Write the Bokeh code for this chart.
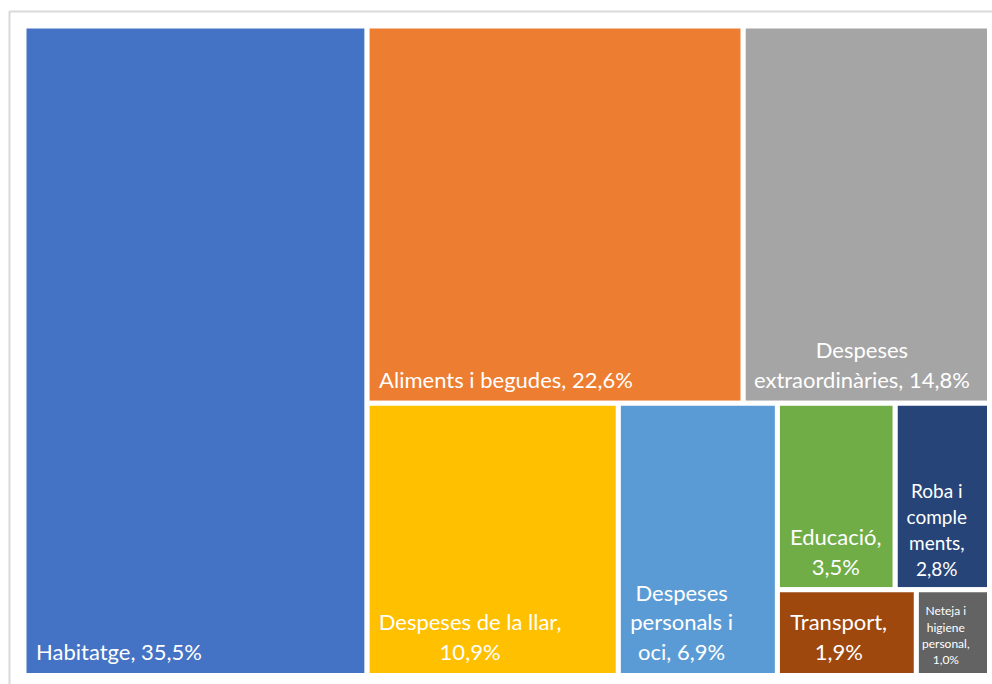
from bokeh.plotting import figure
from bokeh.models import Range1d, ColumnDataSource
from bokeh.embed import file_html
from bokeh.resources import INLINE
from bokeh.core.properties import value

# ---- data ----
names = ["Habitatge", "Aliments i begudes", "Despeses extraordinàries",
         "Despeses de la llar", "Despeses personals i oci", "Educació",
         "Roba i complements", "Transport", "Neteja i higiene personal"]
shares = [35.5, 22.6, 14.8, 10.9, 6.9, 3.5, 2.8, 1.9, 1.0]
label_lines = [
    ["Habitatge, 35,5%"],
    ["Aliments i begudes, 22,6%"],
    ["Despeses", "extraordinàries, 14,8%"],
    ["Despeses de la llar,", "10,9%"],
    ["Despeses", "personals i", "oci, 6,9%"],
    ["Educació,", "3,5%"],
    ["Roba i", "comple", "ments,", "2,8%"],
    ["Transport,", "1,9%"],
    ["Neteja i", "higiene", "personal,", "1,0%"],
]

# ---- style ----
colors = ["#4472C4", "#ED7D31", "#A5A5A5", "#FFC000", "#5B9BD5",
          "#70AD47", "#264478", "#9E480E", "#636363"]
FONT = "Lato"
BIG, MED, SMALL = 22, 19, 12

# screen-pixel coordinates
X0, X1, Y0, Y1 = 0, 992, 0, 684
AREA = (23.5, 25.5, 989.0, 675.0)  # left, top, right, bottom of treemap


def worst(row, w):
    s = sum(row)
    return max(max(w * w * r / (s * s), s * s / (w * w * r)) for r in row)


def squarify(vals, x, y, dx, dy):
    rects = []
    vals = list(vals)
    while vals:
        w = min(dx, dy)
        row = [vals[0]]
        i = 1
        while i < len(vals) and worst(row + [vals[i]], w) <= worst(row, w):
            row.append(vals[i])
            i += 1
        vals = vals[i:]
        s = sum(row)
        if dx >= dy:
            cw = s / dy
            yy = y
            for r in row:
                h = r / cw
                rects.append((x, yy, cw, h))
                yy += h
            x += cw
            dx -= cw
        else:
            rh = s / dx
            xx = x
            for r in row:
                ww = r / rh
                rects.append((xx, y, ww, rh))
                xx += ww
            y += rh
            dy -= rh
    return rects


L, T, R, B = AREA
W, H = R - L, B - T
tot = sum(shares)
areas = [s / tot * W * H for s in shares]
rects = squarify(areas, L, T, W, H)

src = ColumnDataSource(dict(
    left=[r[0] for r in rects],
    right=[r[0] + r[2] for r in rects],
    top=[r[1] for r in rects],
    bottom=[r[1] + r[3] for r in rects],
    color=colors,
    name=names,
))

p = figure(width=X1 - X0, height=Y1 - Y0, output_backend="svg",
           toolbar_location=None, x_range=Range1d(X0, X1),
           y_range=Range1d(Y1, Y0), min_border=0)
p.axis.visible = False
p.grid.visible = False
p.outline_line_color = None
p.background_fill_color = "white"
p.border_fill_color = "white"

# chart area frame (continues beyond the visible page)
p.line(x=[X1 + 20, 9, 9], y=[11, 11, Y1 + 20], line_color="#D9D9D9", line_width=2)

p.quad(left="left", right="right", top="top", bottom="bottom",
       fill_color="color", line_color="white", line_width=5, source=src)


def char_w(c):
    if c in "il|j":
        return 0.23
    if c in ",. ":
        return 0.22
    if c in "ftr":
        return 0.34
    if c == "I":
        return 0.27
    if c in "mw%MW":
        return 0.8
    if c.isdigit():
        return 0.58
    if c.isupper():
        return 0.64
    return 0.52


tx, ty, tt, ts = [], [], [], []
for (x, y, w, h), lines in zip(rects, label_lines):
    if w * h < 8000:
        fs = SMALL
    elif w < 100:
        fs = MED
    else:
        fs = BIG
    pad = 12 if fs != SMALL else 6
    lh = 1.36 * fs
    last = y + h - (0.8 * fs + 6)
    if len(lines) == 1:
        cx = x + pad
        align = "left"
    else:
        bw = max(sum(char_w(c) for c in ln) * fs for ln in lines)
        bw = min(bw, w - 2 * pad)
        cx = x + pad + bw / 2
        align = "center"
    n = len(lines)
    for k, ln in enumerate(lines):
        tx.append(cx)
        ty.append(last - (n - 1 - k) * lh)
        tt.append(ln)
        ts.append((f"{fs}px", align))

for size in (f"{BIG}px", f"{MED}px", f"{SMALL}px"):
    for align in ("left", "center"):
        idx = [i for i, s in enumerate(ts) if s == (size, align)]
        if not idx:
            continue
        p.text(x=[tx[i] for i in idx], y=[ty[i] for i in idx],
               text=[tt[i] for i in idx], text_color="white",
               text_font=value(FONT), text_font_size=size,
               text_align=align, text_baseline="middle")

open("out.html", "w").write(file_html(p, INLINE))
